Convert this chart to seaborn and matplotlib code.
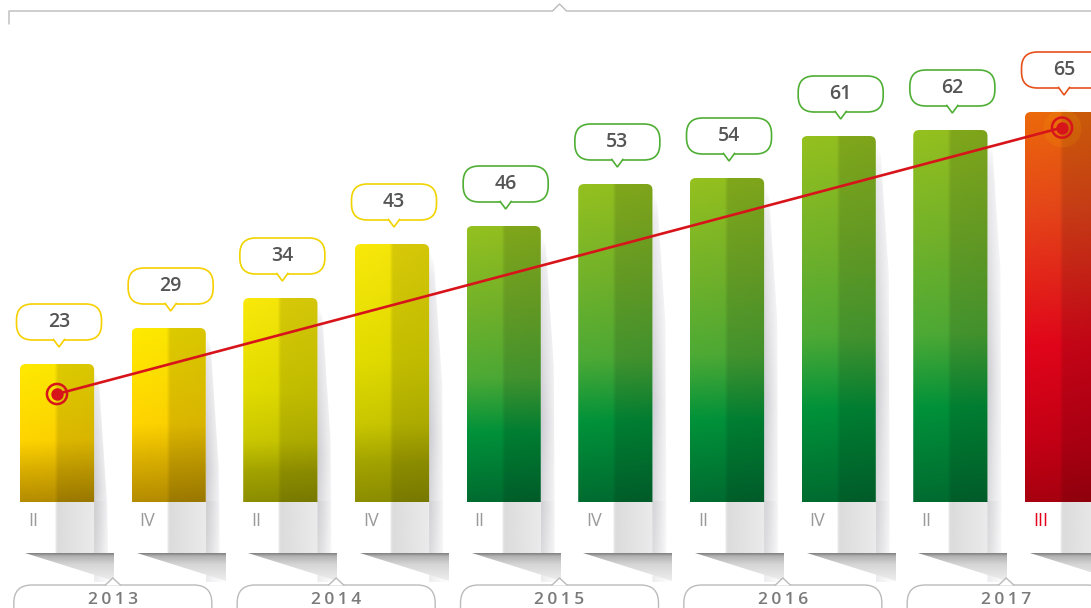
import numpy as np
import pandas as pd
import matplotlib.pyplot as plt
import seaborn as sns
from matplotlib.patches import FancyBboxPatch, Polygon
from matplotlib.colors import LinearSegmentedColormap

# ---------------------------------------------------------------
# data
# ---------------------------------------------------------------
years = ["2013", "2013", "2014", "2014", "2015", "2015", "2016", "2016", "2017", "2017"]
quarters = ["II", "IV", "II", "IV", "II", "IV", "II", "IV", "II", "III"]
values = [23, 29, 34, 43, 46, 53, 54, 61, 62, 65]
year_labels = ["2013", "2014", "2015", "2016", "2017"]
trend_values = [18.0, 62.4]   # red trend line, first and last quarter
families = ["yellow", "yellow", "olive", "olive", "green", "green", "green", "green", "green", "red"]

df = pd.DataFrame({"period": [f"{y} {q}" for y, q in zip(years, quarters)],
                   "value": values})

# colour stops top -> bottom for the bar gradients
stops = {
    "yellow": [(0, "#FFEA00"), (0.55, "#FFD400"), (0.78, "#D7AC00"), (1, "#B48C00")],
    "olive": [(0, "#F9E90A"), (0.45, "#E2DC00"), (0.7, "#C9C700"), (0.85, "#A3A300"), (1, "#8C8E00")],
    "green": [(0, "#95C11F"), (0.3, "#72B22A"), (0.55, "#4DAA35"), (0.75, "#00923A"), (1, "#006C30")],
    "red": [(0, "#EC6A0B"), (0.25, "#E64619"), (0.6, "#E2051A"), (0.85, "#C40015"), (1, "#A8000F")],
}
bubble_edge = {"yellow": "#F6D000", "olive": "#F0D400", "green": "#4FAE34", "red": "#E8501B"}

sns.set_theme(style="white")
plt.rcParams["font.family"] = ["Open Sans", "DejaVu Sans"]

# pixel -> data scale
PXX = 1 / 111.67
PXY = 1 / 6.0
BASE = 502  # baseline in pixels from top


def ypx(py):
    return (BASE - py) * PXY


fig = plt.figure(figsize=(10.91, 6.08), dpi=100)
ax = fig.add_axes([0, 0, 1, 1])
sns.barplot(data=df, x="period", y="value", width=0.665, color="#95C11F",
            errorbar=None, ax=ax, zorder=2)
bars = list(ax.patches)
ax.set_xlim(-57 * PXX, (1091 - 57) * PXX)
ax.set_ylim(ypx(608), ypx(0))
ax.axis("off")


def bar_image(fam, n=256, m=64):
    cmap = LinearSegmentedColormap.from_list(fam, stops[fam])
    col = cmap(np.linspace(0, 1, n))[:, :3]
    img = np.repeat(col[:, None, :], m, axis=1)
    xs = np.linspace(0, 1, m)
    shade = 1 - 0.12 * np.clip((xs - 0.46) / 0.05, 0, 1) - 0.03 * xs
    return np.clip(img * shade[None, :, None], 0, 1)


for i, b in enumerate(bars):
    L, w, T = b.get_x(), b.get_width(), b.get_height()
    R = L + w
    fam = families[i]
    b.set_facecolor("none")
    b.set_edgecolor("none")
    top_py = BASE - T / PXY

    # side shadow
    nh, nw = 120, 30
    yf = np.linspace(0, 1, nh)[:, None]
    xf = np.linspace(0, 1, nw)[None, :]
    v = np.interp(yf, [0, 0.08, 0.55, 0.8, 1], [0, 0.45, 1, 0.75, 0.35])
    sh = np.zeros((nh, nw, 4))
    sh[..., :3] = (0.55, 0.55, 0.6)
    sh[..., 3] = 0.45 * v * (1 - xf) ** 1.4
    im = ax.imshow(sh, extent=(R, R + 22 * PXX, ypx(582), ypx(top_py + 6)),
                   aspect="auto", zorder=1, interpolation="bilinear")
    poly = Polygon([(R, ypx(top_py + 6)), (R + 5 * PXX, ypx(top_py + 20)),
                    (R + 13 * PXX, ypx(top_py + 140)), (R + 14 * PXX, ypx(553)),
                    (R + 22 * PXX, ypx(582)), (R, ypx(582))],
                   closed=True, transform=ax.transData)
    im.set_clip_path(poly)

    # pedestal under the bar
    pw = 60
    xs = np.linspace(0, 1, pw)
    xp = L + xs * (w + 14 * PXX)
    alpha = np.interp(xp, [L, L + 0.47 * w, L + 0.49 * w, R, R + 14 * PXX],
                      [0, 0, 0.7, 0.4, 0])
    ped = np.zeros((2, pw, 4))
    ped[..., :3] = (0.8, 0.8, 0.8)
    ped[..., 3] = alpha[None, :]
    ax.imshow(ped, extent=(L, R + 14 * PXX, ypx(553), ypx(BASE)),
              aspect="auto", zorder=1.5, interpolation="bilinear")

    # floor wedge
    nh = 60
    yy = np.linspace(0, 1, nh)
    wc = np.interp(yy, [0, 0.1, 0.4, 1], [0.50, 0.70, 0.84, 0.94])
    wedge = np.zeros((nh, 2, 3))
    wedge[...] = wc[:, None, None]
    im = ax.imshow(wedge, extent=(L + 5 * PXX, R + 20 * PXX, ypx(582), ypx(553)),
                   aspect="auto", zorder=1.6, interpolation="bilinear")
    poly = Polygon([(L + 5 * PXX, ypx(553)), (R + 20 * PXX, ypx(553)),
                    (R + 20 * PXX, ypx(581))], closed=True, transform=ax.transData)
    im.set_clip_path(poly)

    # gradient bar with rounded top
    im = ax.imshow(bar_image(fam), extent=(L, R, 0, T), aspect="auto",
                   zorder=2, interpolation="bilinear")
    clip = FancyBboxPatch((L, -10 * PXY), w, T + 10 * PXY,
                          boxstyle=f"round,pad=0,rounding_size={6 * PXX}",
                          mutation_aspect=PXY / PXX, transform=ax.transData)
    im.set_clip_path(clip)

    # quarter label
    ax.text(L + 8 * PXX, ypx(521), quarters[i], ha="left", va="center",
            fontsize=13, fontweight="normal",
            color="#E2001A" if i == len(values) - 1 else "#9A9A9A", zorder=4)

    # value bubble
    cx = L + w / 2 + 2 * PXX
    yb = T + 24 * PXY
    bw, bh = 85 * PXX, 36 * PXY
    ec = bubble_edge[fam]
    box = FancyBboxPatch((cx - bw / 2, yb), bw, bh,
                         boxstyle=f"round,pad=0,rounding_size={16 * PXX}",
                         mutation_aspect=PXY / PXX, facecolor="white",
                         edgecolor=ec, linewidth=1.2, zorder=5)
    ax.add_patch(box)
    ptr = Polygon([(cx - 6 * PXX, yb + 1.2 * PXY), (cx, yb - 7 * PXY),
                   (cx + 6 * PXX, yb + 1.2 * PXY)], closed=False,
                  facecolor="white", edgecolor=ec, linewidth=1.2, zorder=6)
    ax.add_patch(ptr)
    ax.text(cx, yb + bh / 2, str(values[i]), ha="center", va="center",
            fontsize=14, fontweight="semibold", color="#555555", zorder=7)

# ---------------------------------------------------------------
# red trend line
# ---------------------------------------------------------------
tx = [0, len(values) - 1]
ax.scatter([tx[1]], [trend_values[1]], s=750, color="#F7B500", alpha=0.12,
           linewidths=0, zorder=8)
ax.plot(tx, trend_values, color="#D8141B", linewidth=1.9, zorder=9)
ax.scatter(tx, trend_values, s=210, facecolor="none", edgecolor="#D8141B",
           linewidths=1.8, zorder=10)
ax.scatter(tx, trend_values, s=80, color="#D8141B", linewidths=0, zorder=11)

# ---------------------------------------------------------------
# year boxes
# ---------------------------------------------------------------
for k, yl in enumerate(year_labels):
    cx = 2 * k + 0.5
    bw = 198 * PXX
    box = FancyBboxPatch((cx - bw / 2, ypx(630)), bw, 45 * PXY,
                         boxstyle=f"round,pad=0,rounding_size={18 * PXX}",
                         mutation_aspect=PXY / PXX, facecolor="white",
                         edgecolor="#BBBBBB", linewidth=1.0, zorder=5, clip_on=False)
    ax.add_patch(box)
    caret = Polygon([(cx - 8 * PXX, ypx(585.5)), (cx, ypx(578)), (cx + 8 * PXX, ypx(585.5))],
                    closed=False, facecolor="white", edgecolor="#BBBBBB",
                    linewidth=1.0, zorder=6)
    ax.add_patch(caret)
    ax.text(cx, ypx(600), "\u2009".join(yl), ha="center", va="center",
            fontsize=12.5, fontweight="semibold", color="#7A7A7A", zorder=7)

# ---------------------------------------------------------------
# top bracket
# ---------------------------------------------------------------
mid = 4.5
ax.plot([-48 * PXX, -48 * PXX, mid - 7 * PXX, mid, mid + 7 * PXX, (1095 - 57) * PXX],
        [ypx(24), ypx(11), ypx(11), ypx(4), ypx(11), ypx(11)],
        color="#BBBBBB", linewidth=1.0, zorder=3, clip_on=False)

fig.savefig("out.png", dpi=100)
